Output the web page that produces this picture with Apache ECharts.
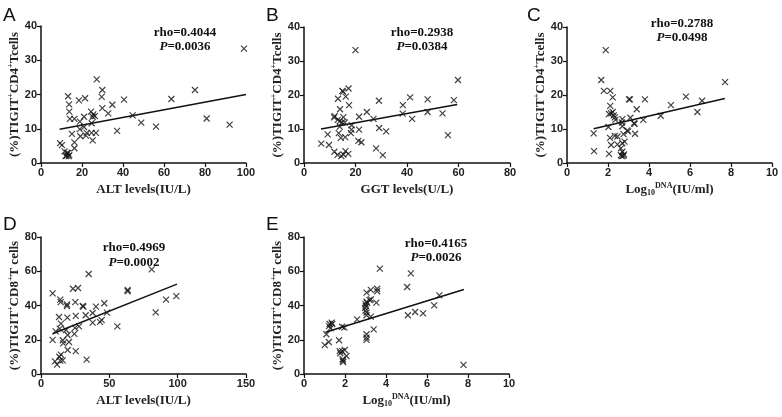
<!DOCTYPE html>
<html>
<head>
<meta charset="utf-8">
<script src="https://cdn.jsdelivr.net/npm/echarts@6/dist/echarts.min.js"></script>
<style>
	html, body { margin: 0; padding: 0; background: #fff; }
	#chart { width: 782px; height: 417px; }
</style>
</head>
<body>
<div id="chart"></div>
<script>
// scatter points [x, y]
var ptsA = [[99,33.4],[27.2,24.4],[29.9,21.3],[75.1,21.3],[13.2,19.5],[29.6,19.3],[18.5,18.3],[21.5,18.9],[40.5,18.5],[63.6,18.7],
	[13.7,17.1],[34.8,17.0],[29.9,16.0],[13.8,15.0],[24.4,15.0],[32.8,14.5],[25.5,14.2],[26.3,13.7],[25.2,13.5],[14.1,12.9],
	[16.3,12.9],[19.0,12.1],[21.0,13.5],[44.7,13.9],[24.7,11.6],[48.9,11.8],[56.1,10.6],[80.8,13.0],[92,11.2],[21.0,10.5],
	[18.9,9.9],[37.1,9.4],[15.1,8.5],[22.3,8.8],[24.7,8.8],[26.8,8.8],[19.2,7.8],[21.9,8.0],[25.2,6.6],[16.3,6.0],
	[9.3,5.8],[10.2,5.2],[16.3,4.3],[11.5,3.4],[12.5,2.2],[13.2,2.9],[12.0,2.0],[13.8,2.3],[12.8,3.0],[13.5,2.0]];
var ptsB = [[20.0,33.2],[59.8,24.4],[14.9,21.2],[15.2,21.0],[17.3,21.9],[16.2,19.5],[13.2,18.9],[29.1,18.3],[41.2,19.3],[48,18.7],
	[58.2,18.5],[17.5,17.0],[38.4,17.0],[14,15.8],[24.4,15.0],[48,15.0],[53.8,14.6],[38.3,14.5],[11.9,13.8],[11.7,13.4],
	[15.3,13.5],[21.4,13.6],[27,13.0],[42,13.0],[13.1,12.7],[13.9,12.3],[14.7,11.9],[15.8,11.9],[13.9,10.7],[18.5,11.1],
	[13.5,8.8],[9.2,8.4],[18.4,9.8],[21.4,9.8],[29.2,10.3],[31.9,9.3],[14.3,7.4],[16.0,7.6],[21.1,6.5],[22.3,6.1],
	[18.2,8.8],[6.7,5.7],[9.7,5.3],[55.9,8.2],[28,4.3],[11.8,3.3],[13.0,2.4],[14.5,2.0],[15.3,2.5],[16.1,3.5],
	[17.2,2.7],[30.6,2.3]];
var ptsC = [[1.89,33.2],[1.67,24.4],[7.71,23.8],[1.80,21.2],[2.11,21.2],[2.23,19.3],[3.02,18.7],[3.07,18.7],[3.80,18.7],[5.80,19.5],
	[6.59,18.3],[5.07,17.0],[2.11,16.8],[3.40,15.8],[2.23,15.0],[2.15,14.6],[2.05,14.4],[2.28,14.0],[2.33,13.4],[2.36,12.7],
	[6.36,15.0],[2.70,12.9],[3.09,13.3],[4.57,13.9],[3.72,12.7],[3.27,11.7],[3.30,11.5],[2.68,11.9],[2.02,10.6],[2.70,10.8],
	[2.94,9.6],[2.98,9.3],[1.30,8.7],[2.76,8.5],[3.32,8.6],[2.10,7.4],[2.33,8.0],[2.46,7.8],[2.81,6.3],[2.70,5.8],
	[2.46,5.5],[2.15,5.3],[2.63,4.3],[2.70,3.3],[1.32,3.5],[2.05,2.7],[2.63,2.3],[2.75,2.1],[2.67,2.0],[2.78,2.5]];
var ptsD = [[81,61.1],[34.9,58.4],[23.4,49.8],[27.1,50.2],[63.4,49.1],[63.4,48.3],[8.5,47.1],[99,45.5],[91.5,43.4],[14.1,43.4],
	[14.4,42.0],[25.1,42.0],[19.0,40.7],[19.0,39.7],[46.3,41.3],[30.5,39.7],[31,39.3],[40.2,39.3],[48.3,35.8],[83.9,36.0],
	[37.8,35.6],[13.2,33.3],[19.3,32.9],[25.4,33.9],[32.7,34.3],[37.8,30.0],[43.2,30.4],[44.4,31.5],[55.9,27.8],[27.8,27.8],
	[14.6,29.4],[13.7,26.5],[10.7,24.9],[18.3,25.7],[19.5,22.8],[24.9,26.9],[24.4,23.4],[8.5,19.9],[15.9,19.7],[16.3,17.9],
	[20.5,18.7],[19.5,14.0],[25.4,13.4],[14.6,11.3],[13.4,10.1],[33.4,8.4],[10.2,7.4],[11.7,5.5],[14.1,7.8],[15.9,8.0]];
var ptsE = [[3.70,61.5],[5.21,58.8],[5.03,50.8],[3.57,49.8],[3.57,48.3],[3.26,49.1],[3.05,47.5],[6.60,45.9],[3.27,43.6],[3.20,43.2],
	[3.53,41.7],[3.05,42.2],[3.0,40.8],[3.02,39.7],[2.98,38.6],[3.08,41.5],[3.0,37.0],[6.35,40.1],[3.05,35.8],[3.05,34.3],
	[5.42,36.2],[5.81,35.4],[5.07,34.3],[3.26,33.5],[2.59,31.9],[3.40,26.1],[1.35,30.0],[1.25,29.2],[1.38,29.2],[1.22,28.0],
	[1.29,26.6],[1.09,23.2],[1.86,27.6],[1.97,27.1],[3.05,23.2],[3.05,21.2],[3.05,19.9],[1.21,18.7],[1.71,19.7],[1.01,16.9],
	[1.74,13.4],[1.86,13.4],[1.99,14.0],[1.77,12.1],[2.07,10.5],[1.89,8.6],[1.89,7.8],[1.91,7.0],[7.78,5.3]];

// fitted regression line end points
var lineA = [[9.1,9.85],[100,20]];
var lineB = [[6.6,10],[59.5,17.2]];
var lineC = [[1.3,10.1],[7.7,19]];
var lineD = [[8.5,23.5],[99.5,52.5]];
var lineE = [[1.05,24.4],[7.8,49.3]];

// axis ranges [min, max, interval]
var xRanges = [[0,100,20],[0,80,20],[0,10,2],[0,150,50],[0,10,2]];
var yRanges = [[0,40,10],[0,40,10],[0,40,10],[0,80,20],[0,80,20]];

var panelLetters = ['A','B','C','D','E'];
var rhoTexts = ['rho=0.4044','rho=0.2938','rho=0.2788','rho=0.4969','rho=0.4165'];
var pTexts = ['0.0036','0.0384','0.0498','0.0002','0.0026'];

var serif = '"Liberation Serif", "Times New Roman", serif';
var sans = '"Liberation Sans", Arial, sans-serif';

var grids = [
	{ left: 41, top: 26, width: 205, height: 137 },
	{ left: 304, top: 27, width: 206, height: 136 },
	{ left: 567, top: 27, width: 205, height: 136 },
	{ left: 41, top: 237, width: 205, height: 137 },
	{ left: 304, top: 237, width: 205, height: 137 }
];

// text rich styles for super/subscripts
var rich = {
	b: { fontFamily: serif, fontWeight: 'bold', fontSize: 13, color: '#222', lineHeight: 15, verticalAlign: 'middle' },
	sup: { fontFamily: serif, fontWeight: 'bold', fontSize: 8, color: '#222', lineHeight: 9, verticalAlign: 'top' },
	sub: { fontFamily: serif, fontWeight: 'bold', fontSize: 8, color: '#222', lineHeight: 7, verticalAlign: 'bottom' }
};

var xNames = [
	'{b|ALT levels(IU/L)}',
	'{b|GGT levels(U/L)}',
	'{b|Log}{sub|10}{sup|DNA}{b|(IU/ml)}',
	'{b|ALT levels(IU/L)}',
	'{b|Log}{sub|10}{sup|DNA}{b|(IU/ml)}'
];
var yCd4 = '{b|(%)TIGIT}{sup|+}{b|CD4}{sup|+}{b|Tcells}';
var yCd8 = '{b|(%)TIGIT}{sup|+}{b|CD8}{sup|+}{b|T cells}';
var yNames = [yCd4, yCd4, yCd4, yCd8, yCd8];

var textPos = [
	{ x: 185, y: 33, py: 47 },
	{ x: 422, y: 33, py: 47 },
	{ x: 682, y: 24, py: 38 },
	{ x: 134, y: 248, py: 263 },
	{ x: 436, y: 244, py: 258 }
];
var letterPos = [[3, 6], [266, 6], [527, 6], [3, 215], [266, 215]];

var allPts = [ptsA, ptsB, ptsC, ptsD, ptsE];
var allLines = [lineA, lineB, lineC, lineD, lineE];

function axisCommon() {
	return {
		axisLine: { show: true, onZero: false, lineStyle: { color: '#111', width: 1.5 } },
		axisTick: { show: true, inside: false, length: 4, lineStyle: { color: '#111', width: 1.2 } },
		axisLabel: { color: '#222', fontFamily: sans, fontWeight: 'bold', fontSize: 11, margin: 4 },
		splitLine: { show: false }
	};
}

var xAxes = [], yAxes = [], series = [], graphics = [];
for (var i = 0; i < 5; i++) {
	var xa = axisCommon();
	xa.type = 'value';
	xa.gridIndex = i;
	xa.min = xRanges[i][0]; xa.max = xRanges[i][1]; xa.interval = xRanges[i][2];
	xa.name = xNames[i];
	xa.nameLocation = 'middle';
	xa.nameGap = 19;
	xa.nameTextStyle = { rich: rich };
	xAxes.push(xa);

	var ya = axisCommon();
	ya.type = 'value';
	ya.gridIndex = i;
	ya.min = yRanges[i][0]; ya.max = yRanges[i][1]; ya.interval = yRanges[i][2];
	ya.name = yNames[i];
	ya.nameLocation = 'middle';
	ya.nameGap = 19;
	ya.nameTextStyle = { rich: rich };
	yAxes.push(ya);

	series.push({
		type: 'scatter',
		xAxisIndex: i, yAxisIndex: i,
		symbol: 'path://M0,0L10,10M10,0L0,10',
		symbolSize: 6,
		itemStyle: { color: 'none', borderColor: '#111', borderWidth: 1.2 },
		data: allPts[i],
		silent: true
	});
	series.push({
		type: 'line',
		xAxisIndex: i, yAxisIndex: i,
		showSymbol: false,
		lineStyle: { color: '#111', width: 1.5 },
		data: allLines[i],
		silent: true
	});

	// panel letter
	graphics.push({
		type: 'text', x: letterPos[i][0], y: letterPos[i][1],
		style: { text: panelLetters[i], font: '19px ' + sans, fill: '#111' }
	});
	// correlation annotation
	graphics.push({
		type: 'text', x: textPos[i].x, y: textPos[i].y,
		style: { text: rhoTexts[i], font: 'bold 13px ' + serif, fill: '#111', align: 'center', verticalAlign: 'middle' }
	});
	graphics.push({
		type: 'text', x: textPos[i].x, y: textPos[i].py,
		style: {
			text: '{i|P}{n|=' + pTexts[i] + '}',
			align: 'center', verticalAlign: 'middle',
			rich: {
				i: { fontFamily: serif, fontWeight: 'bold', fontStyle: 'italic', fontSize: 13, fill: '#111' },
				n: { fontFamily: serif, fontWeight: 'bold', fontSize: 13, fill: '#111' }
			}
		}
	});
}

var myChart = echarts.init(document.getElementById('chart'));
myChart.setOption({
	animation: false,
	backgroundColor: '#fff',
	grid: grids,
	xAxis: xAxes,
	yAxis: yAxes,
	series: series,
	graphic: graphics
});
</script>
</body>
</html>
